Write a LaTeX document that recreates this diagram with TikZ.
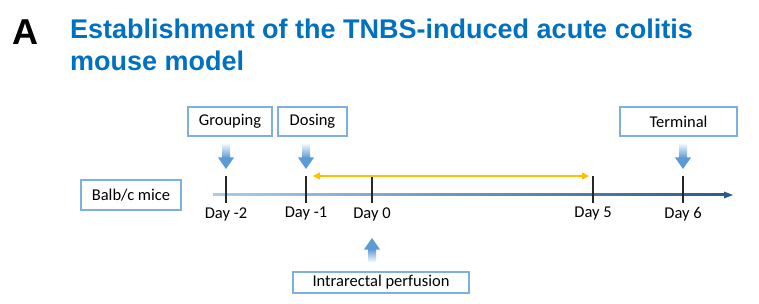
\documentclass[tikz,border=0pt]{standalone}
\usepackage{fontspec}
\setmainfont{Carlito}
\newfontfamily\headfont{Liberation Sans}
\usetikzlibrary{arrows.meta, positioning, calc}
\definecolor{ctitle}{HTML}{0070C0}
\definecolor{cframe}{HTML}{7EB0DE}
\definecolor{cblue}{HTML}{5B9BD5}
\definecolor{clight}{HTML}{A9CDEC}
\definecolor{cnavy}{HTML}{2E5C8A}
\definecolor{cyellow}{HTML}{FFC000}
\tikzset{
  every picture/.style={font=\fontsize{16.5}{19}\selectfont},
  box/.style={draw=cframe, line width=1.1pt, inner sep=0pt, minimum height=29pt, align=center},
  title/.style={font=\headfont\bfseries\fontsize{27}{30}\selectfont, text=ctitle, inner sep=0pt},
  panel/.style={font=\headfont\bfseries\fontsize{36}{40}\selectfont, inner sep=0pt},
  tick/.style={line width=1.3pt, draw=black!85},
  day/.style={inner sep=0pt},
  span/.style={{Triangle[length=7pt,width=7pt]}-{Triangle[length=7pt,width=7pt]}, draw=cyellow, line width=1.4pt},
}

\begin{document}
\begin{tikzpicture}[x=1pt, y=-1pt]
  \useasboundingbox (0,0) rectangle (759,304);
  \node[panel, anchor=base west] (pA) at (12,45) {A};
  \node[title, anchor=base west] (ttl1) at (70,39) {Establishment of the TNBS-induced acute colitis};
  \node[title, anchor=base west] (ttl2) at (70,71) {mouse model};
  % boxes
  \node[box, minimum width=100pt, minimum height=30pt] (mice) at (131,195) {Balb/c mice};
  \node[box, minimum width=84pt] (grp) at (230,121.5) {Grouping};
  \node[box, minimum width=69pt] (dos) at (312.5,121.5) {Dosing};
  \node[box, minimum width=117pt] (term) at (678.5,121.5) {Terminal};
  \node[box, minimum width=176pt, minimum height=21pt] (irp) at (381,282.5) {Intrarectal perfusion};
  % the time axis
  \coordinate (ax0) at (213,195);
  \coordinate (ax1) at (733,195);
  \shade[left color=clight, right color=cnavy] ($(ax0)+(0,-1)$) rectangle ($(ax1)+(-8,1)$);
  \fill[cnavy] ($(ax1)+(-9,-3.5)$) -- (ax1) -- ($(ax1)+(-9,3.5)$) -- cycle;
  \foreach \n/\x/\l in {tm2/226/Day -2, tm1/306/Day -1, t0/372/Day 0, t5/593/Day 5, t6/683/Day 6} {
    \coordinate (\n) at (\x,195);
    \draw[tick] ($(\n)+(0,-19)$) -- ($(\n)+(0,8)$);
    \node[day] (l\n) at ($(\n)+(0,19)$) {\l};
  }
  \draw[span, shorten <=7pt, shorten >=4pt] ($(tm1)+(0,-19)$) -- ($(t5)+(0,-19)$);
  % block arrows down to the axis
  \foreach \b/\t in {grp/tm2, dos/tm1, term/t6} {
    \shade[top color=white, bottom color=cblue] ($(\t |- \b.south)+(-4,6)$) rectangle ($(\t)+(4,-37)$);
    \fill[cblue] ($(\t)+(-8,-37.5)$) -- ($(\t)+(8,-37.5)$) -- ($(\t)+(0,-26)$) -- cycle;
  }
  % block arrow up from the perfusion box
  \shade[top color=cblue, bottom color=white] ($(t0)+(-4,54)$) rectangle ($(t0 |- irp.north)+(4,-9)$);
  \fill[cblue] ($(t0)+(-8,54.5)$) -- ($(t0)+(8,54.5)$) -- ($(t0)+(0,43)$) -- cycle;
\end{tikzpicture}
\end{document}
